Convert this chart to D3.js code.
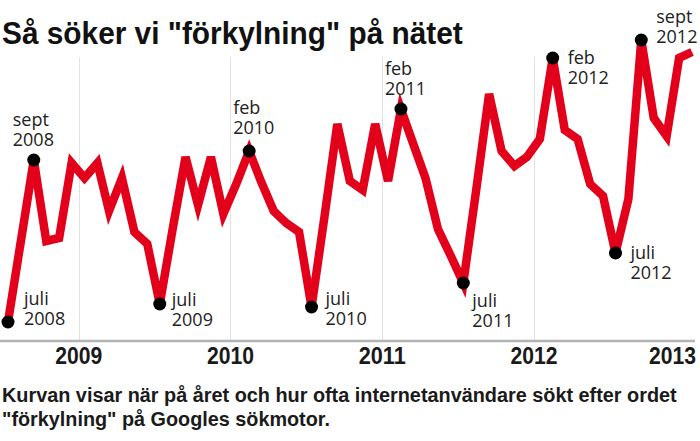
<!DOCTYPE html>
<html>
<head>
<meta charset="utf-8">
<script src="https://cdn.jsdelivr.net/npm/d3@7"></script>
<style>
  body { margin: 0; background: #fff; }
  svg { display: block; }
</style>
</head>
<body>
<svg id="chart"></svg>
<script>
// monthly search interest, jul 2008 - jan 2013
var months = [
  "2008-07","2008-08","2008-09","2008-10","2008-11","2008-12",
  "2009-01","2009-02","2009-03","2009-04","2009-05","2009-06",
  "2009-07","2009-08","2009-09","2009-10","2009-11","2009-12",
  "2010-01","2010-02","2010-03","2010-04","2010-05","2010-06",
  "2010-07","2010-08","2010-09","2010-10","2010-11","2010-12",
  "2011-01","2011-02","2011-03","2011-04","2011-05","2011-06",
  "2011-07","2011-08","2011-09","2011-10","2011-11","2011-12",
  "2012-01","2012-02","2012-03","2012-04","2012-05","2012-06",
  "2012-07","2012-08","2012-09","2012-10","2012-11","2012-12",
  "2013-01"
]
var values = [
   6, 33, 60, 33, 34, 59,
  54, 59, 43, 54, 36, 32,
  12, 37, 61, 45, 61, 42,
  52, 63, 53, 43, 39, 36,
  11, 41, 72, 53, 50, 72,
  53, 77, 66, 54, 37, 28,
  19, 50, 82, 63, 58, 61,
  67, 94, 70, 67, 52, 48,
  29, 47, 100, 74, 68, 94,
  96
]
var yearTicks = ["2009", "2010", "2011", "2012", "2013"]

// highlighted months and their labels
var markMonths = ["2008-07","2008-09","2009-07","2010-02","2010-07","2011-02","2011-07","2012-02","2012-07","2012-09"]
var markLines  = [
  ["juli", "2008"], ["sept", "2008"], ["juli", "2009"], ["feb", "2010"], ["juli", "2010"],
  ["feb", "2011"], ["juli", "2011"], ["feb", "2012"], ["juli", "2012"], ["sept", "2012"]
]

var title = "Så söker vi \"förkylning\" på nätet"
var caption = [
  "Kurvan visar när på året och hur ofta internetanvändare sökt efter ordet",
  "\"förkylning\" på Googles sökmotor."
]

var width = 700, height = 441
var boldFont = "'Liberation Sans', 'Roboto', 'DejaVu Sans', sans-serif"
var svg = d3.select("#chart").attr("width", width).attr("height", height)

// squeeze a text horizontally so it takes the given width (condensed look)
function squeeze(sel, left, base, w) {
  sel.each(function () {
    var natural = this.getComputedTextLength()
    var sx = w / natural
    d3.select(this).attr("transform", "translate(" + left + "," + base + ") scale(" + sx + ",1)")
  })
}

var parseMonth = function (s) {
  var p = s.split("-")
  return new Date(+p[0], +p[1] - 1, 15)
}
var data = months.map(function (m, i) { return { date: parseMonth(m), value: values[i] } })

var x = d3.scaleTime()
  .domain([parseMonth(months[0]), parseMonth(months[months.length - 1])])
  .range([8, 692])
var y = d3.scaleLinear().domain([0, 100]).range([340, 40])

var yearDates = yearTicks.map(function (t) { return new Date(+t, 0, 1) })

// grid lines at the turn of each year
svg.append("g")
  .selectAll("line")
  .data(yearDates.slice(0, 4))
  .enter().append("line")
    .attr("x1", function (d) { return Math.round(x(d)) + 0.5 })
    .attr("x2", function (d) { return Math.round(x(d)) + 0.5 })
    .attr("y1", 57)
    .attr("y2", 341)
    .attr("stroke", "#e2e2e2")
    .attr("stroke-width", 1)

// bottom axis
svg.append("line")
  .attr("x1", 0).attr("x2", 695)
  .attr("y1", 341).attr("y2", 341)
  .attr("stroke", "#b4b4b4")
  .attr("stroke-width", 2.5)

svg.append("g")
  .selectAll("text")
  .data(yearDates)
  .enter().append("text")
    .attr("font-family", boldFont)
    .attr("font-weight", "bold")
    .attr("font-size", 23)
    .attr("fill", "#1a1a1a")
    .text(function (d, i) { return yearTicks[i] })
    .each(function (d) {
      var w = 47
      var cx = Math.min(x(d), 696 - w / 2)
      squeeze(d3.select(this), cx - w / 2, 364, w)
    })

// the curve
var line = d3.line()
  .x(function (d) { return x(d.date) })
  .y(function (d) { return y(d.value) })

svg.append("path")
  .datum(data)
  .attr("d", line)
  .attr("fill", "none")
  .attr("stroke", "#e2001a")
  .attr("stroke-width", 8.5)
  .attr("stroke-linejoin", "miter")

// marked points
var marks = markMonths.map(function (m, i) {
  var idx = months.indexOf(m)
  return { date: data[idx].date, value: data[idx].value, lines: markLines[i] }
})

svg.append("g")
  .selectAll("circle")
  .data(marks)
  .enter().append("circle")
    .attr("cx", function (d) { return x(d.date) })
    .attr("cy", function (d) { return y(d.value) })
    .attr("r", 6.5)
    .attr("fill", "#000")

// label offsets from the dot (dx, baseline of first line)
var labelOffset = [
  [16, -17], [-21, -34], [12, 2], [-16, -37], [14, -2],
  [-16, -34], [9, 24], [15, 6], [15, 6], [15, -17]
]

marks.forEach(function (d, i) {
  var g = svg.append("g")
    .attr("transform", "translate(" + (x(d.date) + labelOffset[i][0]) + "," + (y(d.value) + labelOffset[i][1]) + ")")
  d.lines.forEach(function (t, j) {
    g.append("text")
      .attr("x", 0)
      .attr("y", j * 19.5)
      .attr("font-family", "'Open Sans', 'Noto Sans', sans-serif")
      .attr("font-size", 18)
      .attr("fill", "#222")
      .text(t)
  })
})

// title
svg.append("text")
  .attr("font-family", boldFont)
  .attr("font-weight", "bold")
  .attr("font-size", 31)
  .attr("fill", "#111")
  .text(title)
  .call(squeeze, 2, 44, 461)

// caption
svg.append("g")
  .selectAll("text")
  .data(caption)
  .enter().append("text")
    .attr("font-family", boldFont)
    .attr("font-weight", "bold")
    .attr("font-size", 21)
    .attr("fill", "#1a1a1a")
    .text(function (d) { return d })
    .each(function (d, i) {
      squeeze(d3.select(this), 2, 402 + i * 24, i === 0 ? 675 : 328)
    })
</script>
</body>
</html>
